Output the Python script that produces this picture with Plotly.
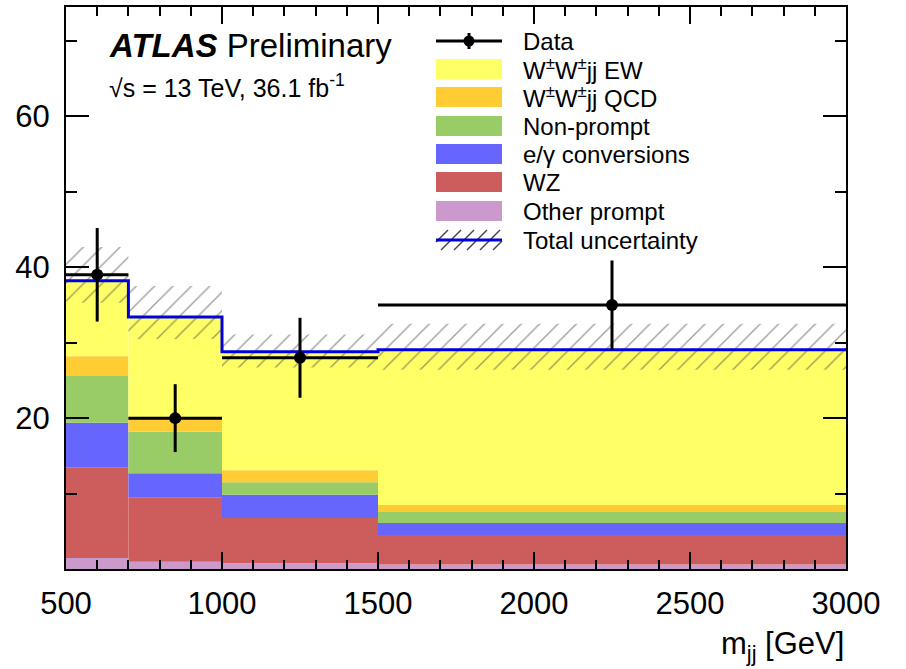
import numpy as np
import plotly.graph_objects as go

# ---------------- data ----------------
bin_edges = [500, 700, 1000, 1500, 3000]
other_prompt = [1.45, 0.97, 0.75, 0.60]
wz = [12.05, 8.48, 6.00, 3.90]
conversions = [5.90, 3.25, 3.10, 1.60]
non_prompt = [6.20, 5.50, 1.65, 1.45]
wwjj_qcd = [2.60, 1.90, 1.60, 0.95]
wwjj_ew = [10.00, 13.30, 15.70, 20.55]
unc_low = [35.3, 30.5, 26.7, 26.4]
unc_high = [42.7, 37.5, 31.1, 32.5]
data_counts = [39, 20, 28, 35]
data_err = [6.2, 4.5, 5.3, 5.9]
x_tick_vals = [500, 1000, 1500, 2000, 2500, 3000]
y_tick_vals = [20, 40, 60]

components = [
    ("Other prompt", other_prompt, "#cc99cc"),
    ("WZ", wz, "#cd5c5c"),
    ("e/γ conversions", conversions, "#6666ff"),
    ("Non-prompt", non_prompt, "#99cc66"),
    ("W<sup>±</sup>W<sup>±</sup>jj QCD", wwjj_qcd, "#ffcc33"),
    ("W<sup>±</sup>W<sup>±</sup>jj EW", wwjj_ew, "#ffff66"),
]

edges = np.array(bin_edges, dtype=float)
centers = 0.5 * (edges[:-1] + edges[1:])
widths = edges[1:] - edges[:-1]

FONT = "Liberation Sans, Arial, Helvetica, sans-serif"
fig = go.Figure()

base = np.zeros(len(centers))
for name, vals, col in components:
    v = np.array(vals, dtype=float)
    fig.add_trace(go.Bar(x=centers, y=v, base=base.copy(), width=widths,
                         marker=dict(color=col, line=dict(width=0)),
                         name=name, showlegend=False, hoverinfo="skip"))
    base = base + v
total = base

# uncertainty hatch
lo = np.array(unc_low)
hi = np.array(unc_high)
fig.add_trace(go.Bar(x=centers, y=hi - lo, base=lo, width=widths,
                     marker=dict(color="rgba(0,0,0,0)", line=dict(width=0),
                                 pattern=dict(shape="/", fgcolor="#444444",
                                              bgcolor="rgba(0,0,0,0)",
                                              size=13, solidity=0.11,
                                              fillmode="overlay")),
                     showlegend=False, hoverinfo="skip"))

# total line
fig.add_trace(go.Scatter(x=edges, y=list(total) + [total[-1]], mode="lines",
                         line=dict(color="#0000dd", width=3, shape="hv"),
                         showlegend=False, hoverinfo="skip"))

# data
fig.add_trace(go.Scatter(x=centers, y=data_counts, mode="markers",
                         marker=dict(color="black", size=12, symbol="circle"),
                         error_y=dict(type="data", array=data_err, color="black",
                                      thickness=3, width=0),
                         error_x=dict(type="data", array=widths / 2, color="black",
                                      thickness=3, width=0),
                         showlegend=False))

# ---------------- layout ----------------
L, R, T, B = 66, 60, 7, 100
W, H = 906, 669
PW, PH = W - L - R, H - T - B


def px(xp):
    return (xp - L) / PW


def py(yp):
    return (H - B - yp) / PH


shapes = []
annotations = []

# ATLAS label
annotations.append(dict(x=px(107), y=py(45), xref="paper", yref="paper",
                        xanchor="left", yanchor="middle", showarrow=False,
                        text="<b><i>ATLAS</i></b> Preliminary",
                        font=dict(family=FONT, size=33, color="black")))
annotations.append(dict(x=px(107), y=py(86), xref="paper", yref="paper",
                        xanchor="left", yanchor="middle", showarrow=False,
                        text="√s = 13 TeV, 36.1 fb<sup>-1</sup>",
                        font=dict(family=FONT, size=25, color="black")))

# custom legend
leg_x0, leg_x1, txt_x = 436, 502, 521
rows = [41, 69, 97, 126, 154, 182, 211, 240]
legend_items = [
    ("Data", "data", None),
    ("W<sup>±</sup>W<sup>±</sup>jj EW", "box", "#ffff66"),
    ("W<sup>±</sup>W<sup>±</sup>jj QCD", "box", "#ffcc33"),
    ("Non-prompt", "box", "#99cc66"),
    ("e/γ conversions", "box", "#6666ff"),
    ("WZ", "box", "#cd5c5c"),
    ("Other prompt", "box", "#cc99cc"),
    ("Total uncertainty", "unc", None),
]
for (label, kind, col), yc in zip(legend_items, rows):
    if kind == "box":
        shapes.append(dict(type="rect", xref="paper", yref="paper",
                           x0=px(leg_x0), x1=px(leg_x1), y0=py(yc + 10), y1=py(yc - 10),
                           fillcolor=col, line=dict(width=0), layer="above"))
    elif kind == "data":
        shapes.append(dict(type="line", xref="paper", yref="paper",
                           x0=px(leg_x0), x1=px(leg_x1), y0=py(yc), y1=py(yc),
                           line=dict(color="black", width=3), layer="above"))
        xm = 0.5 * (leg_x0 + leg_x1)
        shapes.append(dict(type="line", xref="paper", yref="paper",
                           x0=px(xm), x1=px(xm), y0=py(yc - 8), y1=py(yc + 8),
                           line=dict(color="black", width=3), layer="above"))
        shapes.append(dict(type="circle", xref="paper", yref="paper",
                           x0=px(xm - 5.5), x1=px(xm + 5.5), y0=py(yc + 5.5), y1=py(yc - 5.5),
                           fillcolor="black", line=dict(width=0), layer="above"))
    else:
        for k in range(6):
            xs = leg_x0 - 8 + k * 13
            x_a, y_a = xs, yc + 10
            x_b, y_b = xs + 20, yc - 10
            if x_a < leg_x0:
                d = leg_x0 - x_a
                x_a += d
                y_a -= d
            if x_b > leg_x1:
                d = x_b - leg_x1
                x_b -= d
                y_b += d
            if x_b <= x_a:
                continue
            shapes.append(dict(type="line", xref="paper", yref="paper",
                               x0=px(x_a), x1=px(x_b), y0=py(y_a), y1=py(y_b),
                               line=dict(color="#444444", width=1.4), layer="above"))
        shapes.append(dict(type="line", xref="paper", yref="paper",
                           x0=px(leg_x0), x1=px(leg_x1), y0=py(yc), y1=py(yc),
                           line=dict(color="#0000dd", width=3), layer="above"))
    annotations.append(dict(x=px(txt_x), y=py(yc), xref="paper", yref="paper",
                            xanchor="left", yanchor="middle", showarrow=False,
                            text=label, font=dict(family=FONT, size=24, color="black")))

# x-axis title
annotations.append(dict(x=1.0, y=py(646), xref="paper", yref="paper",
                        xanchor="right", yanchor="middle", showarrow=False,
                        text="m<sub>jj</sub> [GeV]",
                        font=dict(family=FONT, size=31, color="black")))

fig.update_layout(
    width=W, height=H,
    margin=dict(l=L, r=R, t=T, b=B, pad=0, autoexpand=False),
    paper_bgcolor="white", plot_bgcolor="white",
    barmode="overlay",
    showlegend=False,
    hovermode=False,
    shapes=shapes,
    annotations=annotations,
    font=dict(family=FONT, color="black"),
)
fig.update_xaxes(range=[500, 3000], tickmode="array", tickvals=x_tick_vals,
                 ticks="inside", ticklen=17, tickwidth=1.5, tickcolor="black",
                 showline=True, linecolor="black", linewidth=2, mirror="ticks",
                 showgrid=False, zeroline=False, automargin=False,
                 tickfont=dict(family=FONT, size=31, color="black"),
                 ticklabelstandoff=6,
                 minor=dict(dtick=100, tick0=500, ticks="inside", ticklen=9,
                            tickwidth=1.5, tickcolor="black", showgrid=False))
fig.update_yaxes(range=[0, 74.5], tickmode="array", tickvals=y_tick_vals,
                 ticks="inside", ticklen=23, tickwidth=1.5, tickcolor="black",
                 showline=True, linecolor="black", linewidth=2, mirror="ticks",
                 showgrid=False, zeroline=False, automargin=False,
                 tickfont=dict(family=FONT, size=31, color="black"),
                 ticklabelstandoff=8,
                 minor=dict(dtick=10, tick0=0, ticks="inside", ticklen=11,
                            tickwidth=1.5, tickcolor="black", showgrid=False))

fig.write_html("out.html", config={"displayModeBar": False},
               post_script="document.body.style.margin='0px';document.body.style.padding='0px';")
